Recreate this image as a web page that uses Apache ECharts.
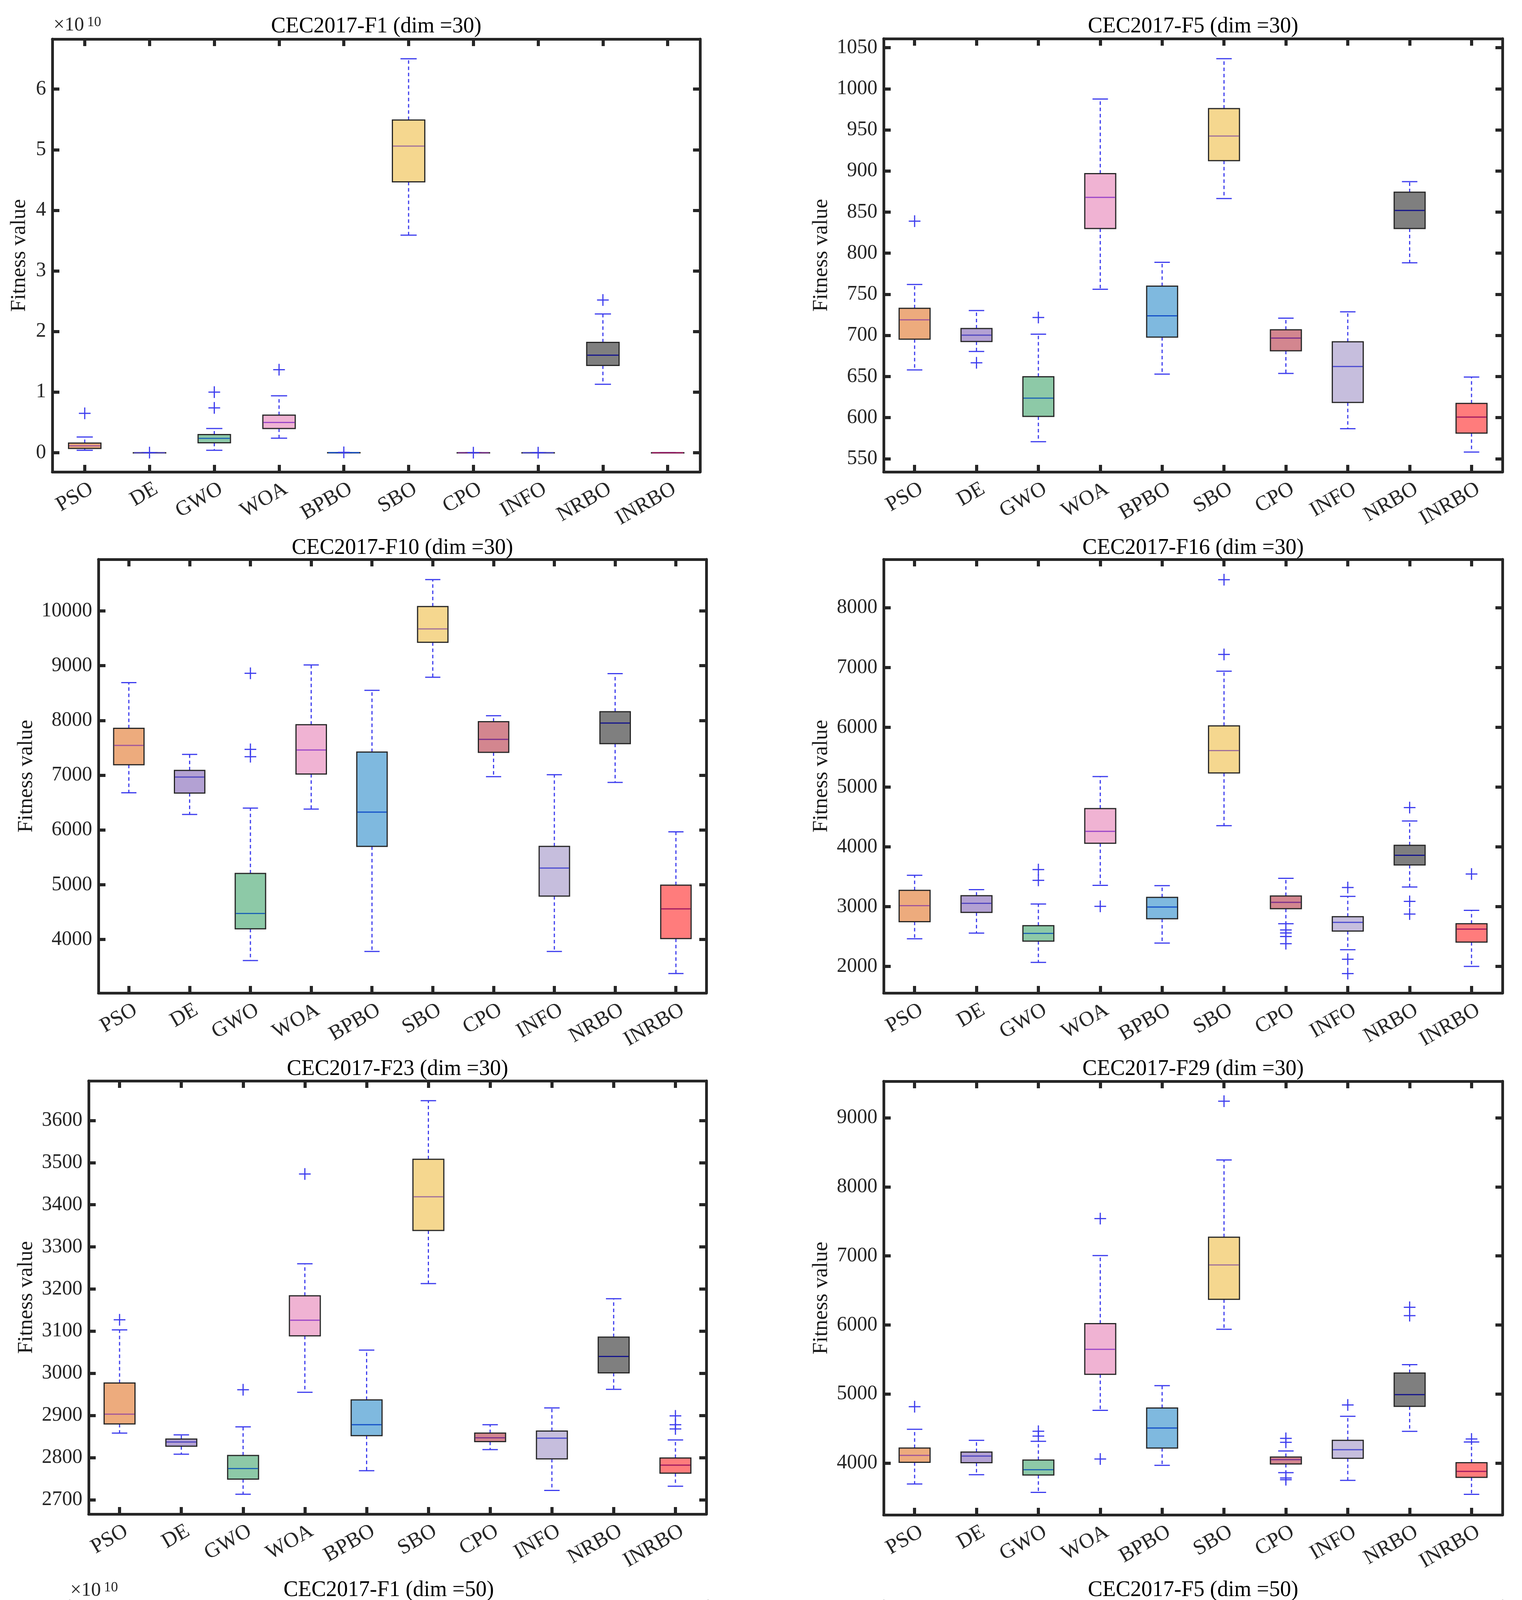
<!DOCTYPE html>
<html>
<head>
<meta charset="utf-8">
<script src="https://cdn.jsdelivr.net/npm/echarts@6/dist/echarts.min.js"></script>
<style>
html,body{margin:0;padding:0;background:#ffffff;}
#chart{width:3896px;height:5370px;}
</style>
</head>
<body>
<div id="chart"></div>
<script>
// ---------------- DATA ----------------
const categories = ['PSO', 'DE', 'GWO', 'WOA', 'BPBO', 'SBO', 'CPO', 'INFO', 'NRBO', 'INRBO'];

// Each stats row: [lower whisker, Q1, median, Q3, upper whisker]
// CEC2017-F1 (dim =30)
const f1d30Stats = [
  [4.0e8, 7.0e8, 1.15e9, 1.6e9, 2.6e9],
  [1e6, 2e6, 3e6, 5e6, 8e6],
  [4.0e8, 1.65e9, 2.37e9, 3.0e9, 4.0e9],
  [2.4e9, 4.0e9, 5.0e9, 6.2e9, 9.4e9],
  [5e6, 1e7, 1.5e7, 2e7, 3e7],
  [3.59e10, 4.47e10, 5.06e10, 5.49e10, 6.50e10],
  [1e6, 2e6, 3e6, 4e6, 6e6],
  [1e6, 2e6, 3e6, 4e6, 6e6],
  [1.13e10, 1.44e10, 1.61e10, 1.82e10, 2.29e10],
  [1e5, 2e5, 3e5, 4e5, 6e5]
];
const f1d30Outliers = [[6.5e9], [2e7], [1.0e10, 7.4e9], [1.37e10], [6e7], [], [1e7], [1e7], [2.52e10], []];
const f1d30Ticks = [0, 1e10, 2e10, 3e10, 4e10, 5e10, 6e10];
const f1d30Range = [-3.16e9, 6.826e10];

// CEC2017-F5 (dim =30)
const f5d30Stats = [
  [658, 695.5, 719, 733, 762],
  [680.5, 692.6, 700.3, 708.4, 730.3],
  [570.7, 601.5, 623.7, 649.7, 701.5],
  [756.2, 830, 868, 896.8, 987.6],
  [652.9, 697.9, 723.8, 759.9, 789],
  [866.5, 912.6, 942.6, 975.9, 1036.6],
  [653.7, 681.3, 696.7, 706.8, 721],
  [586.5, 618.5, 662.2, 692.2, 728.7],
  [788.3, 830, 852, 874.2, 887.1],
  [558.1, 581.2, 600.7, 617.3, 649.3]
];
const f5d30Outliers = [[839], [666.7], [721.8], [], [], [], [], [], [], []];
const f5d30Ticks = [550, 600, 650, 700, 750, 800, 850, 900, 950, 1000, 1050];
const f5d30Range = [534, 1061];

// CEC2017-F10 (dim =30)
const f10d30Stats = [
  [6680, 7192, 7545, 7856, 8690],
  [6284, 6674, 6966, 7088, 7381],
  [3616, 4195, 4475, 5206, 6400],
  [6382, 7021, 7460, 7923, 9013],
  [3781, 5700, 6327, 7423, 8550],
  [8788, 9427, 9671, 10079, 10572],
  [6973, 7417, 7655, 7978, 8087],
  [3781, 4792, 5304, 5700, 7009],
  [6869, 7576, 7953, 8160, 8855],
  [3379, 4018, 4560, 4993, 5967]
];
const f10d30Outliers = [[], [], [8861, 7472, 7338], [], [], [], [], [], [], []];
const f10d30Ticks = [4000, 5000, 6000, 7000, 8000, 9000, 10000];
const f10d30Range = [3024, 10941];

// CEC2017-F16 (dim =30)
const f16d30Stats = [
  [2463, 2748, 3016, 3273, 3524],
  [2558, 2904, 3055, 3183, 3284],
  [2067, 2424, 2553, 2681, 3044],
  [3356, 4060, 4260, 4640, 5176],
  [2391, 2798, 2993, 3155, 3351],
  [4355, 5237, 5611, 6024, 6939],
  [2714, 2966, 3072, 3178, 3473],
  [2279, 2592, 2737, 2832, 3172],
  [3328, 3697, 3859, 4026, 4433],
  [2000, 2407, 2625, 2714, 2938]
];
const f16d30Outliers = [[], [], [3620, 3440], [3005], [], [8469, 7219], [2610, 2560, 2500, 2380], [3320, 2120, 1880], [4657, 3088, 2876], [3546]];
const f16d30Ticks = [2000, 3000, 4000, 5000, 6000, 7000, 8000];
const f16d30Range = [1556, 8809];

// CEC2017-F23 (dim =30)
const f23d30Stats = [
  [2858, 2880, 2903, 2977, 3103],
  [2808, 2827, 2837, 2844, 2854],
  [2713, 2749, 2774, 2805, 2873],
  [2955, 3089, 3126, 3184, 3260],
  [2769, 2852, 2878, 2937, 3055],
  [3213, 3339, 3419, 3508, 3647],
  [2819, 2838, 2847, 2858, 2878],
  [2722, 2797, 2846, 2863, 2918],
  [2962, 3001, 3040, 3086, 3177],
  [2732, 2763, 2782, 2799, 2842]
];
const f23d30Outliers = [[3127], [], [2961], [3473], [], [], [], [], [], [2899, 2878, 2868]];
const f23d30Ticks = [2700, 2800, 2900, 3000, 3100, 3200, 3300, 3400, 3500, 3600];
const f23d30Range = [2666, 3694];

// CEC2017-F29 (dim =30)
const f29d30Stats = [
  [3696, 4010, 4111, 4217, 4488],
  [3831, 4005, 4101, 4159, 4329],
  [3575, 3826, 3903, 4043, 4314],
  [4763, 5285, 5647, 6019, 7005],
  [3966, 4217, 4507, 4797, 5121],
  [5937, 6372, 6870, 7271, 8391],
  [3860, 3986, 4048, 4087, 4174],
  [3749, 4068, 4193, 4329, 4676],
  [4459, 4821, 4990, 5304, 5425],
  [3546, 3792, 3879, 4005, 4304]
];
const f29d30Outliers = [[4816], [], [4460, 4390], [7541, 4058], [], [9242], [4357, 4300, 3783, 3758], [4841], [6256, 6135], [4348]];
const f29d30Ticks = [4000, 5000, 6000, 7000, 8000, 9000];
const f29d30Range = [3249, 9531];

// CEC2017-F1 (dim =50)
const f1d50Stats = [
  [2.34e9, 4.0e9, 4.89e9, 9.34e9, 1.312e10],
  [2.11e9, 2.67e9, 3.2e9, 3.89e9, 4.67e9],
  [2.45e9, 7.45e9, 9.56e9, 1.323e10, 1.835e10],
  [1.257e10, 1.746e10, 2.302e10, 2.591e10, 3.826e10],
  [0, 2.2e8, 5.6e8, 8.9e8, 1.33e9],
  [8.96e10, 1.018e11, 1.136e11, 1.188e11, 1.295e11],
  [5e7, 1e8, 1.5e8, 2e8, 3e8],
  [1e7, 5e7, 1e8, 2e8, 4e8],
  [3.904e10, 4.76e10, 5.472e10, 6.117e10, 6.84e10],
  [1e6, 2e6, 3e6, 5e6, 1e7]
];
const f1d50Outliers = [[], [], [2.513e10], [], [2.2e9], [], [], [2.5e9, 6e8], [], [3e8]];
const f1d50Ticks = [0, 2e10, 4e10, 6e10, 8e10, 10e10, 12e10];
const f1d50Range = [-6.7e9, 1.362e11];

// CEC2017-F5 (dim =50)
const f5d50Stats = [
  [862, 933, 967.4, 987.2, 1060],
  [935.3, 952.2, 965.6, 969.7, 989.5],
  [718.6, 735.5, 747.8, 761.2, 774],
  [1005.8, 1065.2, 1121.7, 1189.3, 1340.2],
  [814.8, 862.5, 889.3, 924.9, 981.9],
  [1183.5, 1229.5, 1264.5, 1283.7, 1306.4],
  [873, 901, 935.3, 949.9, 976.1],
  [726.8, 781.6, 801.4, 839.8, 902.7],
  [1076.3, 1111.8, 1130.5, 1153.8, 1213.2],
  [670.9, 703.5, 726.2, 754.8, 822.9]
];
const f5d50Outliers = [[1072, 1066, 856, 845], [903.9], [949.3, 818.8, 806, 800.2, 660.4], [], [], [], [], [], [], [880, 854.4]];
const f5d50Ticks = [700, 800, 900, 1000, 1100, 1200, 1300];
const f5d50Range = [627, 1375];

const titles = [
  'CEC2017-F1 (dim =30)', 'CEC2017-F5 (dim =30)',
  'CEC2017-F10 (dim =30)', 'CEC2017-F16 (dim =30)',
  'CEC2017-F23 (dim =30)', 'CEC2017-F29 (dim =30)',
  'CEC2017-F1 (dim =50)', 'CEC2017-F5 (dim =50)'
];
const yAxisTitle = 'Fitness value';

// ---------------- STYLE / LAYOUT ----------------
const fillColors = ['#EDAB7D', '#B3A1D3', '#8DC9A7', '#F0B3D3', '#7FB9DF', '#F5D78F', '#D3868F', '#C6BEDD', '#7F7F7F', '#FF7C7C'];
const medianColors = ['#A0569A', '#5046C0', '#1E64B4', '#9A46C8', '#1450C8', '#A0709A', '#7A2E8C', '#4A4AD0', '#14148C', '#A01860'];
const WHISKER = '#3C3CEE';
const EDGE = '#262626';
const FONT = "'Liberation Serif', 'Times New Roman', serif";

const layouts = [
  { left: 134, top: 100, right: 1792, bottom: 1208, titleY: 68, nameX: 50, expo: [137, 90] },
  { left: 2262, top: 99, right: 3846, bottom: 1208, titleY: 68, nameX: 2103 },
  { left: 252, top: 1432, right: 1808, bottom: 2542, titleY: 1403, nameX: 68 },
  { left: 2262, top: 1432, right: 3846, bottom: 2542, titleY: 1403, nameX: 2103 },
  { left: 227, top: 2767, right: 1808, bottom: 3876, titleY: 2737, nameX: 68 },
  { left: 2262, top: 2768, right: 3846, bottom: 3878, titleY: 2737, nameX: 2103 },
  { left: 178, top: 4099, right: 1812, bottom: 5212, titleY: 4071, nameX: 68, expo: [180, 4097] },
  { left: 2262, top: 4099, right: 3846, bottom: 5212, titleY: 4071, nameX: 2103 }
];

const panels = [
  { stats: f1d30Stats, outliers: f1d30Outliers, ticks: f1d30Ticks, range: f1d30Range, scale: 1e10 },
  { stats: f5d30Stats, outliers: f5d30Outliers, ticks: f5d30Ticks, range: f5d30Range, scale: 1 },
  { stats: f10d30Stats, outliers: f10d30Outliers, ticks: f10d30Ticks, range: f10d30Range, scale: 1 },
  { stats: f16d30Stats, outliers: f16d30Outliers, ticks: f16d30Ticks, range: f16d30Range, scale: 1 },
  { stats: f23d30Stats, outliers: f23d30Outliers, ticks: f23d30Ticks, range: f23d30Range, scale: 1 },
  { stats: f29d30Stats, outliers: f29d30Outliers, ticks: f29d30Ticks, range: f29d30Range, scale: 1 },
  { stats: f1d50Stats, outliers: f1d50Outliers, ticks: f1d50Ticks, range: f1d50Range, scale: 1e10 },
  { stats: f5d50Stats, outliers: f5d50Outliers, ticks: f5d50Ticks, range: f5d50Range, scale: 1 }
];

// ---------------- RENDERERS ----------------
function renderBox(params, api) {
  const idx = api.value(0);
  const low = api.coord([idx, api.value(1)]);
  const q1 = api.coord([idx, api.value(2)]);
  const med = api.coord([idx, api.value(3)]);
  const q3 = api.coord([idx, api.value(4)]);
  const high = api.coord([idx, api.value(5)]);
  const band = api.size([1, 0])[0];
  const bw = band * 0.5, cw = band * 0.25;
  const x = med[0];
  const dashStyle = { stroke: WHISKER, lineWidth: 3, lineDash: [9, 7], fill: null };
  const capStyle = { stroke: WHISKER, lineWidth: 3, fill: null };
  return {
    type: 'group',
    children: [
      { type: 'line', shape: { x1: x, y1: q3[1], x2: x, y2: high[1] }, style: dashStyle },
      { type: 'line', shape: { x1: x, y1: q1[1], x2: x, y2: low[1] }, style: dashStyle },
      { type: 'line', shape: { x1: x - cw / 2, y1: high[1], x2: x + cw / 2, y2: high[1] }, style: capStyle },
      { type: 'line', shape: { x1: x - cw / 2, y1: low[1], x2: x + cw / 2, y2: low[1] }, style: capStyle },
      { type: 'rect', shape: { x: x - bw / 2, y: q3[1], width: bw, height: Math.max(q1[1] - q3[1], 0.5) },
        style: { fill: fillColors[idx], stroke: EDGE, lineWidth: 3 } },
      { type: 'line', shape: { x1: x - bw / 2 + 1.5, y1: med[1], x2: x + bw / 2 - 1.5, y2: med[1] },
        style: { stroke: medianColors[idx], lineWidth: 3, fill: null } }
    ]
  };
}

function renderPlus(params, api) {
  const p = api.coord([api.value(0), api.value(1)]);
  const h = 15;
  const st = { stroke: WHISKER, lineWidth: 3, fill: null };
  return {
    type: 'group',
    children: [
      { type: 'line', shape: { x1: p[0] - h, y1: p[1], x2: p[0] + h, y2: p[1] }, style: st },
      { type: 'line', shape: { x1: p[0], y1: p[1] - h, x2: p[0], y2: p[1] + h }, style: st }
    ]
  };
}

// ---------------- OPTION ----------------
const grid = [], xAxis = [], yAxis = [], series = [], graphic = [];
const axisLineStyle = { color: EDGE, width: 7 };
const tickStyle = { color: EDGE, width: 8 };

panels.forEach(function (pn, i) {
  const L = layouts[i];
  grid.push({ left: L.left, top: L.top, width: L.right - L.left, height: L.bottom - L.top, containLabel: false });

  xAxis.push({
    type: 'category', gridIndex: i, data: categories, position: 'bottom', boundaryGap: true,
    axisLine: { show: true, onZero: false, lineStyle: axisLineStyle },
    axisTick: { show: true, inside: true, alignWithLabel: true, length: 18, lineStyle: tickStyle },
    axisLabel: { show: true, interval: 0, rotate: 30, margin: 50, padding: [0, -20, 0, 0],
      fontSize: 54, fontFamily: FONT, color: EDGE },
    splitLine: { show: false }
  });
  xAxis.push({
    type: 'category', gridIndex: i, data: categories, position: 'top', boundaryGap: true,
    axisLine: { show: true, onZero: false, lineStyle: axisLineStyle },
    axisTick: { show: true, inside: true, alignWithLabel: true, length: 18, lineStyle: tickStyle },
    axisLabel: { show: false },
    splitLine: { show: false }
  });
  const scale = pn.scale;
  yAxis.push({
    type: 'value', gridIndex: i, position: 'left', min: pn.range[0], max: pn.range[1],
    axisLine: { show: true, onZero: false, lineStyle: axisLineStyle },
    axisTick: { show: true, inside: true, length: 18, lineStyle: tickStyle, customValues: pn.ticks },
    axisLabel: {
      show: true, customValues: pn.ticks, margin: 16, fontSize: 52, fontFamily: FONT, color: EDGE,
      formatter: function (v) { return String(Math.round(v / scale)); }
    },
    splitLine: { show: false }
  });
  yAxis.push({
    type: 'value', gridIndex: i, position: 'right', min: pn.range[0], max: pn.range[1],
    axisLine: { show: true, onZero: false, lineStyle: axisLineStyle },
    axisTick: { show: true, inside: true, length: 18, lineStyle: tickStyle, customValues: pn.ticks },
    axisLabel: { show: false },
    splitLine: { show: false }
  });

  const boxData = pn.stats.map(function (s, k) { return [k].concat(s); });
  series.push({
    type: 'custom', xAxisIndex: 2 * i, yAxisIndex: 2 * i, z: 3,
    renderItem: renderBox, data: boxData,
    encode: { x: 0, y: [1, 2, 3, 4, 5] }, silent: true, clip: false
  });
  const outData = [];
  pn.outliers.forEach(function (arr, k) { arr.forEach(function (v) { outData.push([k, v]); }); });
  series.push({
    type: 'custom', xAxisIndex: 2 * i, yAxisIndex: 2 * i, z: 4,
    renderItem: renderPlus, data: outData,
    encode: { x: 0, y: 1 }, silent: true, clip: false
  });

  // title
  graphic.push({
    type: 'text', x: (L.left + L.right) / 2, y: L.titleY,
    style: { text: titles[i], font: '56px ' + FONT, fill: '#000000',
      textAlign: 'center', textVerticalAlign: 'middle', align: 'center', verticalAlign: 'middle' }
  });
  // y axis name
  graphic.push({
    type: 'text', x: L.nameX, y: (L.top + L.bottom) / 2, rotation: Math.PI / 2,
    style: { text: yAxisTitle, font: '55px ' + FONT, fill: '#1a1a1a',
      textAlign: 'center', textVerticalAlign: 'middle', align: 'center', verticalAlign: 'middle' }
  });
  // exponent label
  if (L.expo) {
    graphic.push({
      type: 'text', x: L.expo[0], y: L.expo[1],
      style: { text: '\u00d710', font: '50px ' + FONT, fill: EDGE,
        textAlign: 'left', textVerticalAlign: 'bottom', align: 'left', verticalAlign: 'bottom' }
    });
    graphic.push({
      type: 'text', x: L.expo[0] + 86, y: L.expo[1] - 50,
      style: { text: '10', font: '36px ' + FONT, fill: EDGE,
        textAlign: 'left', textVerticalAlign: 'top', align: 'left', verticalAlign: 'top' }
    });
  }
});

const chart = echarts.init(document.getElementById('chart'), null, { renderer: 'canvas', width: 3896, height: 5370 });
chart.setOption({
  backgroundColor: '#ffffff',
  animation: false,
  grid: grid,
  xAxis: xAxis,
  yAxis: yAxis,
  series: series,
  graphic: graphic
});
</script>
</body>
</html>
